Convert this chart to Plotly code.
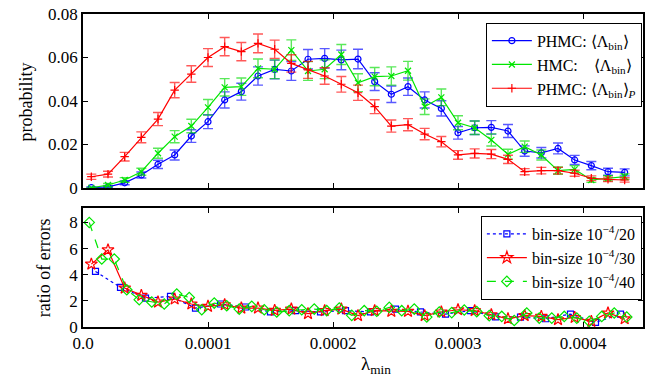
import plotly.graph_objects as go
from plotly.subplots import make_subplots

# ─── Top panel: probability per λ_min bin (bin width 1e-4/7.5) ─────────────────
lam_top = [(i + 0.5) * 1e-4 / 7.5 for i in range(33)]

phmc = [0.0002, 0.0005, 0.0024, 0.0060, 0.0109, 0.0152, 0.0239, 0.0305, 0.0405, 0.0443,
        0.0515, 0.0545, 0.0538, 0.0592, 0.0596, 0.0589, 0.0593, 0.0489, 0.0431, 0.0466,
        0.0405, 0.0366, 0.0254, 0.0277, 0.0279, 0.0262, 0.0170, 0.0162, 0.0182, 0.0129,
        0.0103, 0.0075, 0.0072]
phmc_err = [0.0003, 0.0004, 0.0009, 0.0014, 0.0019, 0.0023, 0.0029, 0.0032, 0.0037, 0.0039,
            0.0042, 0.0043, 0.0043, 0.0045, 0.0045, 0.0045, 0.0045, 0.0041, 0.0038, 0.0040,
            0.0037, 0.0035, 0.0029, 0.0031, 0.0031, 0.0030, 0.0024, 0.0024, 0.0025, 0.0021,
            0.0019, 0.0016, 0.0016]

hmc = [0.0001, 0.0014, 0.0037, 0.0075, 0.0160, 0.0236, 0.0285, 0.0371, 0.0463, 0.0466,
       0.0550, 0.0546, 0.0634, 0.0538, 0.0546, 0.0614, 0.0484, 0.0512, 0.0515, 0.0539,
       0.0374, 0.0417, 0.0300, 0.0277, 0.0221, 0.0155, 0.0190, 0.0152, 0.0080, 0.0086,
       0.0037, 0.0045, 0.0052]
hmc_err = [0.0002, 0.0007, 0.0011, 0.0016, 0.0023, 0.0028, 0.0031, 0.0036, 0.0040, 0.0040,
           0.0043, 0.0043, 0.0047, 0.0043, 0.0043, 0.0046, 0.0041, 0.0042, 0.0042, 0.0043,
           0.0036, 0.0038, 0.0032, 0.0031, 0.0028, 0.0023, 0.0026, 0.0023, 0.0017, 0.0017,
           0.0011, 0.0012, 0.0013]

phmc_p = [0.0052, 0.0064, 0.0144, 0.0233, 0.0317, 0.0450, 0.0524, 0.0600, 0.0650, 0.0627,
          0.0665, 0.0638, 0.0573, 0.0543, 0.0515, 0.0477, 0.0438, 0.0374, 0.0285, 0.0291,
          0.0248, 0.0213, 0.0152, 0.0159, 0.0156, 0.0132, 0.0075, 0.0080, 0.0080, 0.0068,
          0.0045, 0.0040, 0.0037]
phmc_p_err = [0.0012, 0.0013, 0.0020, 0.0025, 0.0030, 0.0035, 0.0038, 0.0041, 0.0042, 0.0042,
              0.0043, 0.0042, 0.0040, 0.0039, 0.0038, 0.0036, 0.0035, 0.0032, 0.0028, 0.0028,
              0.0026, 0.0024, 0.0020, 0.0021, 0.0021, 0.0019, 0.0014, 0.0015, 0.0015, 0.0014,
              0.0011, 0.0010, 0.0010]

# ─── Bottom panel: ratio of errors for three bin sizes ──────────────────────
lam_20 = [(i + 0.5) * 2e-5 for i in range(22)]
ratio_20 = [4.25, 3.03, 2.21, 2.34, 1.45, 1.76, 1.53, 1.15, 1.25, 1.15, 1.25, 1.15, 1.37,
            1.15, 0.99, 1.25, 0.78, 0.76, 0.63, 0.99, 0.35, 0.99]

lam_30 = [(i + 0.5) * 1e-4 / 7.5 for i in range(33)]
ratio_30 = [4.81, 5.90, 2.98, 2.42, 1.91, 2.14, 1.76, 1.58, 1.70, 1.45, 1.45, 1.27, 1.37,
            1.02, 1.25, 1.37, 0.87, 1.25, 1.20, 1.20, 0.87, 1.15, 1.32, 1.25, 0.94, 0.63,
            0.87, 0.81, 0.56, 0.73, 0.43, 1.07, 0.63]

lam_40 = [(i + 0.5) * 1e-5 for i in range(44)]
ratio_40 = [8.00, 5.20, 5.20, 2.85, 2.09, 1.91, 1.76, 2.52, 2.26, 1.32, 1.83, 1.63, 1.37,
            1.58, 1.32, 1.15, 1.25, 1.32, 1.37, 1.25, 1.45, 0.89, 1.25, 1.20, 1.50, 1.25,
            1.37, 0.76, 1.15, 1.10, 1.30, 1.18, 0.87, 0.81, 0.50, 1.07, 0.68, 0.68, 0.81,
            0.68, 0.43, 0.81, 1.07, 0.76]

x_ticks = [0, 0.0001, 0.0002, 0.0003, 0.0004]
x_ticktext = ["0.0", "0.0001", "0.0002", "0.0003", "0.0004"]

FONT = "Liberation Serif"
BLUE, GREEN, RED = "#0000ff", "#00e600", "#ff0000"

fig = make_subplots(rows=2, cols=1, shared_xaxes=True)


def top_trace(y, err, name, color, err_color, symbol):
    return go.Scatter(
        x=lam_top, y=y, name=name, mode="lines+markers", legend="legend",
        line=dict(color=color, width=1.2),
        marker=dict(symbol=symbol, size=6, color=color, line=dict(color=color, width=1.2)),
        error_y=dict(type="data", array=err, color=err_color, thickness=1.4, width=5),
    )


fig.add_trace(top_trace(phmc, phmc_err, "PHMC: ⟨Λ<sub>bin</sub>⟩", BLUE,
                        "rgba(0,0,255,0.65)", "circle-open"), row=1, col=1)
fig.add_trace(top_trace(hmc, hmc_err, "HMC:&nbsp;&nbsp;&nbsp;&nbsp;⟨Λ<sub>bin</sub>⟩", GREEN,
                        "rgba(0,220,0,0.65)", "x-thin-open"), row=1, col=1)
fig.add_trace(top_trace(phmc_p, phmc_p_err, "PHMC: ⟨Λ<sub>bin</sub>⟩<sub><i>P</i></sub>", RED,
                        "rgba(255,0,0,0.65)", "cross-thin-open"), row=1, col=1)

fig.add_hline(y=1, line_dash="dash", line_color="#999999", line_width=1, row=2, col=1)

fig.add_trace(go.Scatter(
    x=lam_20, y=ratio_20, name="bin-size 10<sup>−4</sup>/20", mode="lines+markers",
    legend="legend2", line=dict(color=BLUE, width=1.2, dash="dot"),
    marker=dict(symbol="square-open", size=6, color=BLUE, line=dict(width=1.2)),
), row=2, col=1)
fig.add_trace(go.Scatter(
    x=lam_30, y=ratio_30, name="bin-size 10<sup>−4</sup>/30", mode="lines+markers",
    legend="legend2", line=dict(color=RED, width=1.2),
    marker=dict(symbol="star-open", size=9, color=RED, line=dict(width=1.2)),
), row=2, col=1)
fig.add_trace(go.Scatter(
    x=lam_40, y=ratio_40, name="bin-size 10<sup>−4</sup>/40", mode="lines+markers",
    legend="legend2", line=dict(color=GREEN, width=1.2, dash="dash"),
    marker=dict(symbol="diamond-open", size=8, color=GREEN, line=dict(width=1.2)),
), row=2, col=1)

axis_style = dict(showline=True, linecolor="black", linewidth=1.5, mirror="ticks",
                  ticks="inside", ticklen=5, tickcolor="black", showgrid=False,
                  zeroline=False, automargin=False, ticklabeloverflow="allow",
                  tickfont=dict(family=FONT, size=17, color="black"))

fig.update_xaxes(range=[0, 0.000448], tickvals=x_ticks, ticktext=x_ticktext, **axis_style)
fig.update_xaxes(showticklabels=False, row=1, col=1)
fig.update_yaxes(**axis_style)
fig.update_yaxes(range=[0, 0.08], tickvals=[0, 0.02, 0.04, 0.06, 0.08],
                 ticktext=["0", "0.02", "0.04", "0.06", "0.08"],
                 domain=[0.444, 1.0], row=1, col=1)
fig.update_yaxes(range=[0, 9.1], tickvals=[0, 2, 4, 6, 8],
                 domain=[0.0, 0.380], row=2, col=1)

# axis titles placed as annotations so they sit where the reference has them
title_font = dict(family=FONT, size=18, color="black")
fig.add_annotation(text="probability", textangle=-90, font=title_font,
                   xref="paper", yref="paper", x=-0.102, y=0.72,
                   xanchor="center", yanchor="middle", showarrow=False)
fig.add_annotation(text="ratio of errors", textangle=-90, font=title_font,
                   xref="paper", yref="paper", x=-0.07, y=0.19,
                   xanchor="center", yanchor="middle", showarrow=False)
fig.add_annotation(text="λ<sub>min</sub>", font=dict(family=FONT, size=19, color="black"),
                   xref="paper", yref="paper", x=0.523, y=0, yshift=-38,
                   xanchor="center", yanchor="middle", showarrow=False)

legend_style = dict(bgcolor="white", bordercolor="black", borderwidth=1,
                    font=dict(family=FONT, size=16, color="black"),
                    xanchor="right", yanchor="top", itemwidth=40, tracegroupgap=0)

# the page body adds an 8px margin, so the figure is drawn 8px smaller and shifted
fig.update_layout(
    width=646, height=374,
    margin=dict(l=75, r=11, t=6, b=55, autoexpand=False),
    paper_bgcolor="white", plot_bgcolor="white",
    font=dict(family=FONT, size=17, color="black"),
    showlegend=True,
    legend=dict(x=0.998, y=0.972, **legend_style),
    legend2=dict(x=0.998, y=0.355, **legend_style),
)

fig.write_html("out.html")
